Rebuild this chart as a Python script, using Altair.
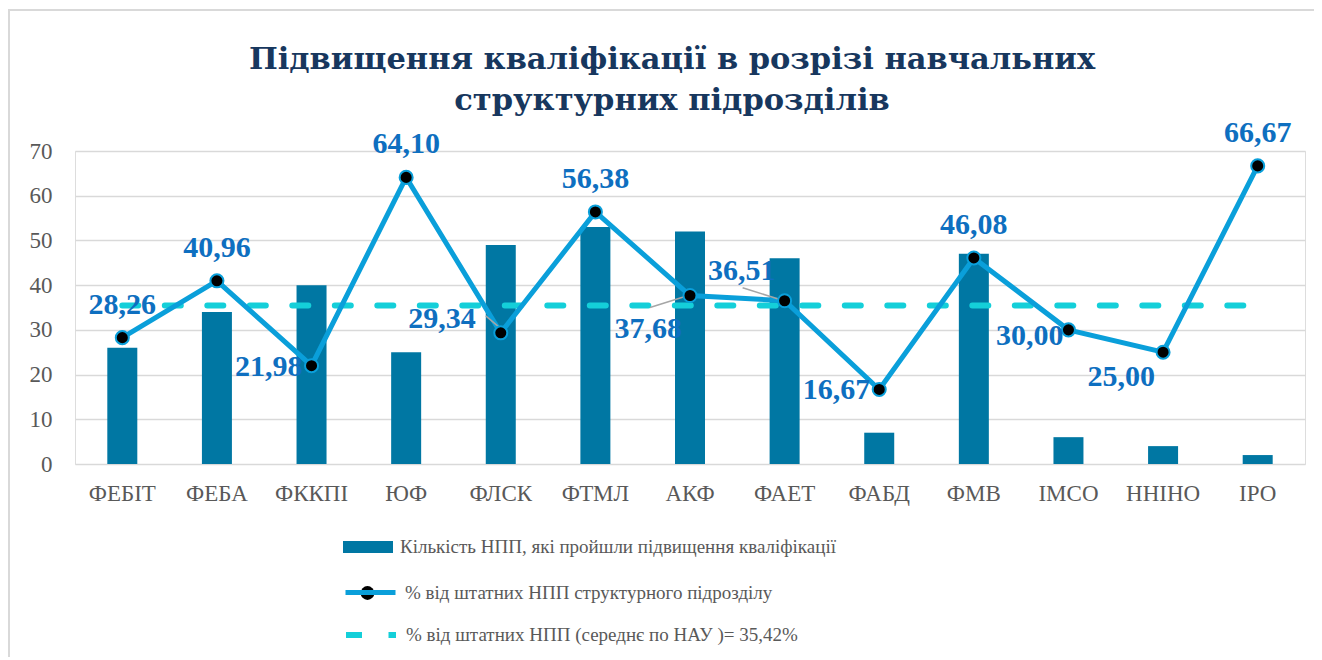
import altair as alt
import pandas as pd

categories = ["ФЕБІТ", "ФЕБА", "ФККПІ", "ЮФ", "ФЛСК", "ФТМЛ", "АКФ", "ФАЕТ", "ФАБД", "ФМВ", "ІМСО", "ННІНО", "ІРО"]
counts = [26, 34, 40, 25, 49, 53, 52, 46, 7, 47, 6, 4, 2]
percents = [28.26, 40.96, 21.98, 64.10, 29.34, 56.38, 37.68, 36.51, 16.67, 46.08, 30.00, 25.00, 66.67]
average = 35.42
label_place = ["above", "above", "left", "above", "upleft_a", "above", "downleft_a", "upleft_b", "left", "above", "left_low", "downleft_b", "above"]

name_bar = "Кількість НПП, які пройшли  підвищення кваліфікації"
name_line = "% від штатних НПП структурного підрозділу"
name_avg = "% від штатних НПП (середнє по НАУ )= 35,42%"
title_lines = ["Підвищення кваліфікації в розрізі навчальних", "структурних підрозділів"]

df = pd.DataFrame({
    "cat": categories,
    "count": counts,
    "pct": percents,
    "lab": [f"{v:.2f}".replace(".", ",") for v in percents],
    "place": label_place,
    "s_bar": name_bar,
    "s_line": name_line,
    "s_avg": name_avg,
})

FONT = "Liberation Serif"
TFONT = "DejaVu Serif"
BAR = "#0077A3"
LINE = "#0A9FDA"
AVG = "#14CFD9"
LAB = "#0E6FC0"
GRAY = "#595959"

W, H = 1230, 313

x = alt.X("cat:N", sort=categories, title=None,
          scale=alt.Scale(paddingInner=0, paddingOuter=0),
          axis=alt.Axis(labelAngle=0, labelFont=FONT, labelFontSize=23, labelColor=GRAY,
                        labelPadding=18, ticks=False, domain=False, grid=False))
yscale = alt.Scale(domain=[0, 70], nice=False)

base = alt.Chart(df)

def leg(xpos, ypos, **kw):
    return alt.Legend(orient="none", legendX=xpos, legendY=ypos, title=None, padding=0,
                      labelFont=FONT, labelFontSize=19, labelColor=GRAY, labelLimit=0,
                      labelOffset=7, **kw)

LX = 268

bars = base.mark_bar(size=30).encode(
    x=x,
    y=alt.Y("count:Q", scale=yscale, title=None,
            axis=alt.Axis(values=list(range(0, 71, 10)), labelFont=FONT, labelFontSize=23,
                          labelColor=GRAY, labelPadding=23, ticks=False, domain=False,
                          gridColor="#D9D9D9", gridWidth=1.5)),
    fill=alt.Fill("s_bar:N", scale=alt.Scale(domain=[name_bar], range=[BAR]),
                  legend=leg(LX, 371, symbolType="M-1,-0.24H1V0.24H-1Z", symbolSize=2500,
                             symbolStrokeWidth=0)),
)

avg_line = base.mark_line(color=AVG, strokeWidth=6, strokeCap="round").encode(
    x=x,
    y=alt.datum(average, scale=yscale),
    strokeDash=alt.StrokeDash("s_avg:N", scale=alt.Scale(domain=[name_avg], range=[[16, 26.5]]),
                              legend=leg(LX, 456, symbolType="stroke", symbolSize=2500,
                                         symbolStrokeWidth=6, symbolStrokeColor=AVG,
                                         symbolDash=[15, 16])),
)

line = base.mark_line(strokeWidth=5).encode(
    x=x,
    y=alt.Y("pct:Q", scale=yscale),
    stroke=alt.Stroke("s_line:N", scale=alt.Scale(domain=[name_line], range=[LINE]),
                      legend=leg(LX, 414, symbolType="stroke", symbolSize=2500,
                                 symbolStrokeWidth=5)),
)

points = base.mark_point(filled=True, fill="black", stroke=LINE, strokeWidth=2, size=170, opacity=1).encode(
    x=x,
    y=alt.Y("pct:Q", scale=yscale),
    shape=alt.Shape("s_line:N", scale=alt.Scale(domain=[name_line], range=["circle"]),
                    legend=leg(LX + 15, 432.5, symbolSize=190, symbolFillColor="black",
                               symbolStrokeColor=LINE, symbolStrokeWidth=2, labelExpr="''")),
)

def leader(cat, sx, sy, ex, ey):
    return base.transform_filter(alt.datum.cat == cat).mark_rule(
        color="#A6A6A6", strokeWidth=1.5,
        xOffset=sx, yOffset=sy, x2Offset=ex, y2Offset=ey
    ).encode(x=x, x2=alt.X2("cat:N"), y=alt.Y("pct:Q", scale=yscale), y2=alt.Y2("pct:Q"))

leaders = [
    leader("ФЛСК", -15, -17, -2, -6),
    leader("АКФ", -40, 12, -5, 1),
    leader("ФАЕТ", -42, -13, -4, -1),
]

def labels(place, **kw):
    return base.transform_filter(alt.datum.place == place).mark_text(
        font=FONT, fontSize=30, fontWeight="bold", color=LAB, baseline="middle", **kw
    ).encode(x=x, y=alt.Y("pct:Q", scale=yscale), text="lab:N")

lab_layers = [
    labels("above", align="center", dy=-33),
    labels("left", align="right", dx=-9, dy=1),
    labels("left_low", align="right", dx=-5, dy=6),
    labels("upleft_a", align="right", dx=-25, dy=-14),
    labels("upleft_b", align="right", dx=-9, dy=-30),
    labels("downleft_a", align="right", dx=-8, dy=33),
    labels("downleft_b", align="right", dx=-8, dy=25),
]

border = alt.Chart(pd.DataFrame({"k": [0]})).mark_rect(
    fill=None, stroke="#D9D9D9", strokeWidth=2
).encode(x=alt.value(-66), x2=alt.value(1300), y=alt.value(-141), y2=alt.value(560))

chart = alt.layer(
    border, bars, avg_line, line, *leaders, points, *lab_layers
).resolve_scale(fill="independent", stroke="independent").properties(
    width=W, height=H,
    title=alt.TitleParams(text=title_lines, font=TFONT, fontSize=30.5, fontWeight="bold",
                          color="#17375E", anchor="middle", dx=-18, offset=-107, lineHeight=41),
    autosize=alt.AutoSizeParams(type="none"),
    padding={"left": 67, "top": 143, "right": 9, "bottom": 193},
).configure_view(stroke=None).configure(background="white")

chart.save("out.html", embed_options={"renderer": "svg", "actions": False})
